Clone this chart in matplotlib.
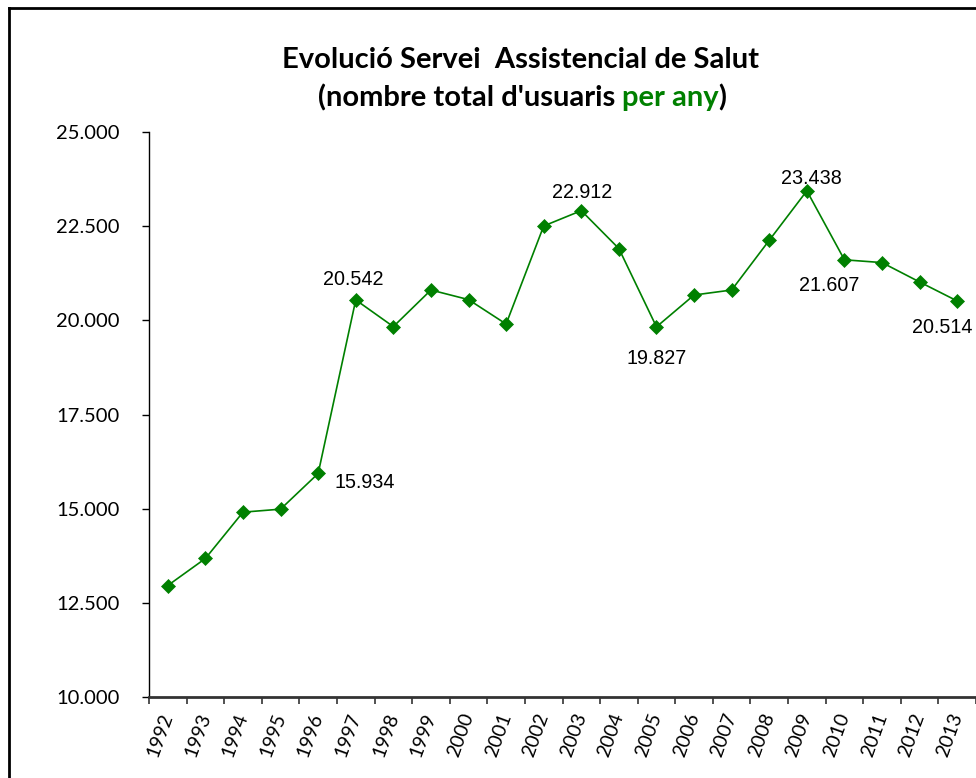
import matplotlib
matplotlib.use('Agg')
import matplotlib.pyplot as plt
from matplotlib.ticker import FixedLocator, FuncFormatter

years = [str(y) for y in range(1992, 2014)]
usuaris = [12960, 13677, 14907, 14987, 15934, 20542, 19833, 20805, 20550, 19902, 22505,
           22912, 21905, 19827, 20672, 20805, 22125, 23438, 21607, 21533, 21018, 20514]

# etiquetes de dades: (index, desplaçament en pixels)
etiquetes = [(4, (47, -9)), (5, (-3, 20)), (11, (1, 18)), (13, (0, -32)),
             (17, (5, 12)), (18, (-15, -26)), (21, (-15, -27))]

verd = '#008000'

fig = plt.figure(figsize=(9.76, 7.78), dpi=100)
ax = fig.add_axes([149 / 976, 1 - 697 / 778, 1 - 149 / 976, (697 - 132) / 778])

x = list(range(len(years)))
ax.plot(x, usuaris, color=verd, lw=1.2, marker='D', ms=7, mec=verd, mew=0.5, clip_on=False)

for i, (dx, dy) in etiquetes:
    ax.annotate('{:,}'.format(usuaris[i]).replace(',', '.'), (i, usuaris[i]),
                xytext=(dx, dy), textcoords='offset pixels', ha='center', va='center',
                fontsize=14.2, family='Liberation Sans', color='black')

ax.set_xlim(-0.5, len(years) - 0.5)
ax.set_ylim(10000, 25000)
ax.set_yticks(range(10000, 25001, 2500))
ax.yaxis.set_major_formatter(FuncFormatter(lambda v, p: '{:,}'.format(int(v)).replace(',', '.')))
ax.tick_params(axis='y', direction='out', length=5, width=1, pad=16, labelsize=14.5)
for t in ax.get_yticklabels():
    t.set_family('Lato')

ax.set_xticks(x)
ax.set_xticklabels(years, rotation=70, ha='right', va='center', rotation_mode='anchor',
                   family='Lato', fontsize=14)
ax.tick_params(axis='x', which='major', length=0, pad=12)
ax.xaxis.set_minor_locator(FixedLocator([i - 0.5 for i in range(len(years) + 1)]))
ax.tick_params(axis='x', which='minor', direction='out', length=5, width=1.2, color='#333333')

for s in ['top', 'right']:
    ax.spines[s].set_visible(False)
ax.spines['left'].set_color('black')
ax.spines['left'].set_linewidth(1)
ax.spines['bottom'].set_color('#333333')
ax.spines['bottom'].set_linewidth(2)

# marc del gràfic
fig.add_artist(plt.Line2D([9 / 976, 9 / 976], [0, 1 - 8 / 778], color='black', lw=2))
fig.add_artist(plt.Line2D([9 / 976, 1], [1 - 8 / 778, 1 - 8 / 778], color='black', lw=2))

# títol
fig.text(520 / 976, 1 - 60 / 778, 'Evolució Servei  Assistencial de Salut', ha='center', va='center',
         fontsize=21, fontweight='bold', family='Lato')
parts = [('(nombre total d\'usuaris ', 'black'), ('per any', verd), (')', 'black')]
r = fig.canvas.get_renderer()
txts = []
for s, c in parts:
    txts.append(fig.text(0, 1 - 98 / 778, s, ha='left', va='center', fontsize=21,
                         fontweight='bold', family='Lato', color=c))
widths = [t.get_window_extent(r).width for t in txts]
x0 = 522 - sum(widths) / 2
for t, w in zip(txts, widths):
    t.set_x(x0 / 976)
    x0 += w

fig.savefig('out.png', dpi=100)
